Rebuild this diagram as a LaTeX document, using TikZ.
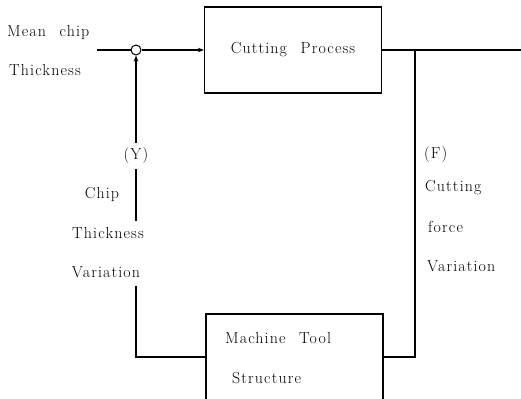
\documentclass[tikz,border=0pt]{standalone}
\usepackage{fontspec}
\setmainfont{Latin Modern Roman}[LetterSpace=7, WordSpace=2.3]
\usepackage{tikz}
\usetikzlibrary{arrows.meta, positioning, calc}

\begin{document}
\begin{tikzpicture}[
    x=1bp, y=-1bp,
    every node/.style={font=\fontsize{16}{18}\selectfont},
    block/.style={rectangle, draw, line width=1.2bp, minimum width=177bp, inner sep=0pt},
    lbl/.style={inner sep=0pt},
    sumpt/.style={circle, draw, line width=1bp, minimum size=10bp, inner sep=0pt},
    line/.style={line width=1.2bp},
    arrow/.style={-{Stealth[length=6bp, width=4.5bp]}, line width=1.2bp}
]
\useasboundingbox (0,0) rectangle (521,398);
\node[block, minimum height=86bp] (cp) at (293,50) {Cutting Process};
\node[block, minimum height=86bp] (mts) at (294.5,357) {};
\node[lbl, anchor=west] (mtl) at (225,338) {Machine Tool};
\node[lbl, anchor=west] (stl) at (232,378) {Structure};
\node[sumpt] (sum) at (136,50) {};
\node[lbl, anchor=west] (mean) at (7,33) {Mean chip};
\node[lbl, anchor=west] (mthick) at (9,70) {Thickness};
\coordinate (in) at (97,50);
\coordinate (out) at (521,50);
\coordinate (br) at (415,50);
\node[lbl, inner sep=5bp] (yl) at (136,156) {(Y)};
\node[lbl] (chip) at (102,194) {Chip};
\node[lbl] (thick) at (108,233) {Thickness};
\node[lbl] (cvar) at (106,272) {Variation};
\node[lbl, anchor=west] (fl) at (424,155) {(F)};
\node[lbl, anchor=west] (cut) at (425,188) {Cutting};
\node[lbl, anchor=west] (force) at (428,227) {force};
\node[lbl, anchor=west] (fvar) at (427,266) {Variation};

\draw[line] (in) -- (sum.west);
\draw[arrow] (sum.east) -- (cp.west);
\draw[line] (cp.east) -- (out);
\draw[line] (br) |- (mts.east);
\draw[arrow] (yl.north) -- (sum.south);
\draw[line] (yl.south) -- ([yshift=6bp]yl.south |- thick.north);
\draw[line] ([yshift=-8bp]yl.south |- cvar.south) |- (mts.west);
\end{tikzpicture}
\end{document}
